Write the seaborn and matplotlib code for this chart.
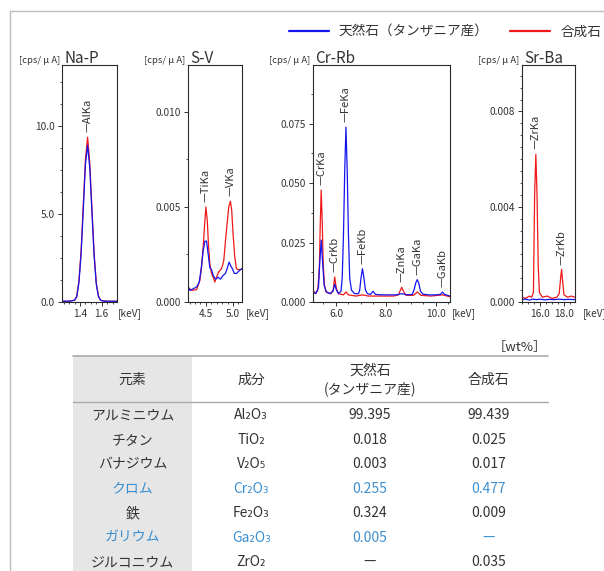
import numpy as np
import pandas as pd
import matplotlib
matplotlib.use("Agg")
import matplotlib.pyplot as plt
import seaborn as sns
from matplotlib.lines import Line2D
from matplotlib.ticker import MultipleLocator, FixedLocator, FormatStrFormatter

# ---------------------------------------------------------------- data
NATURAL = "天然石（タンザニア産）"
SYNTHETIC = "合成石"

# Na-P region (cps/uA)
nap_kev = [1.24, 1.30, 1.35, 1.37, 1.39, 1.41, 1.43, 1.45, 1.47, 1.49,
           1.51, 1.53, 1.55, 1.57, 1.59, 1.62, 1.68, 1.74]
nap_natural = [0.05, 0.04, 0.10, 0.30, 1.1, 2.7, 5.2, 7.8, 8.9, 7.6,
               5.1, 2.6, 1.0, 0.3, 0.1, 0.05, 0.04, 0.04]
nap_synthetic = [0.04, 0.05, 0.10, 0.33, 1.2, 2.9, 5.5, 8.1, 9.35, 7.9,
                 5.3, 2.8, 1.1, 0.35, 0.1, 0.05, 0.04, 0.04]

# S-V region
sv_kev_syn = [4.164, 4.237, 4.329, 4.39, 4.42, 4.45, 4.482, 4.50, 4.525, 4.55,
              4.573, 4.604, 4.634, 4.665, 4.695, 4.738, 4.775, 4.805, 4.83, 4.86,
              4.89, 4.921, 4.952, 4.976, 5.0, 5.031, 5.062, 5.098, 5.135, 5.165]
sv_synthetic = [0.00079, 0.00061, 0.00065, 0.00114, 0.00184, 0.0029, 0.0043, 0.0050, 0.0043, 0.0029,
                0.0020, 0.0015, 0.0013, 0.00105, 0.0013, 0.0016, 0.0017, 0.0019, 0.0022, 0.0032,
                0.0041, 0.0050, 0.0053, 0.0048, 0.0036, 0.0024, 0.00175, 0.0017, 0.0017, 0.00175]
sv_kev_nat = [4.164, 4.207, 4.268, 4.329, 4.378, 4.42, 4.45, 4.482, 4.512, 4.543,
              4.573, 4.604, 4.634, 4.677, 4.726, 4.768, 4.817, 4.86, 4.896, 4.927,
              4.958, 4.988, 5.025, 5.062, 5.098, 5.135, 5.165]
sv_natural = [0.00088, 0.00061, 0.0007, 0.00079, 0.00105, 0.0019, 0.0027, 0.0032, 0.0032, 0.0025,
              0.0018, 0.0017, 0.0014, 0.0012, 0.0013, 0.0012, 0.0014, 0.0015, 0.0018, 0.0021,
              0.0019, 0.00175, 0.0015, 0.0015, 0.0016, 0.0017, 0.00175]

# Cr-Rb region
crrb_kev_nat = [5.07, 5.20, 5.30, 5.35, 5.41, 5.47, 5.53, 5.60, 5.75, 5.88,
                5.95, 6.02, 6.10, 6.20, 6.25, 6.30, 6.35, 6.40, 6.45, 6.50,
                6.55, 6.62, 6.75, 6.90, 6.95, 7.00, 7.06, 7.12, 7.18, 7.26,
                7.38, 7.48, 7.58, 7.80, 8.10, 8.40, 8.63, 8.85, 9.05, 9.12,
                9.19, 9.25, 9.31, 9.38, 9.48, 9.70, 10.00, 10.18, 10.26, 10.34,
                10.56]
crrb_natural = [0.0040, 0.0035, 0.0060, 0.0160, 0.0260, 0.0160, 0.0070, 0.0045, 0.0035, 0.0045,
                0.0075, 0.0050, 0.0035, 0.0045, 0.0100, 0.0280, 0.0550, 0.0735, 0.0550, 0.0280,
                0.0100, 0.0050, 0.0035, 0.0035, 0.0050, 0.0100, 0.0140, 0.0100, 0.0050, 0.0035,
                0.0032, 0.0045, 0.0032, 0.0030, 0.0030, 0.0030, 0.0035, 0.0030, 0.0032, 0.0050,
                0.0080, 0.0094, 0.0080, 0.0045, 0.0033, 0.0030, 0.0030, 0.0032, 0.0042, 0.0032,
                0.0025]
crrb_kev_syn = [5.07, 5.20, 5.27, 5.31, 5.34, 5.37, 5.41, 5.45, 5.49, 5.54,
                5.62, 5.80, 5.89, 5.95, 6.01, 6.10, 6.30, 6.40, 6.50, 6.80,
                7.06, 7.30, 7.80, 8.30, 8.50, 8.57, 8.63, 8.70, 8.80, 9.10,
                9.25, 9.40, 9.80, 10.26, 10.56]
crrb_synthetic = [0.0045, 0.0040, 0.0050, 0.0100, 0.0160, 0.0320, 0.0470, 0.0340, 0.0160, 0.0070,
                  0.0040, 0.0035, 0.0050, 0.0105, 0.0060, 0.0035, 0.0030, 0.0042, 0.0030, 0.0025,
                  0.0030, 0.0025, 0.0025, 0.0025, 0.0030, 0.0048, 0.0062, 0.0045, 0.0028, 0.0028,
                  0.0042, 0.0028, 0.0025, 0.0030, 0.0022]

# Sr-Ba region
srba_kev_syn = [14.5, 14.8, 15.1, 15.3, 15.45, 15.55, 15.65, 15.75, 15.85, 15.95,
                16.2, 16.6, 17.0, 17.4, 17.6, 17.72, 17.8, 17.9, 18.0, 18.3,
                18.6, 18.9]
srba_synthetic = [0.00020, 0.00015, 0.00025, 0.00020, 0.00040, 0.0045, 0.0062, 0.0045, 0.0015, 0.0004,
                  0.00020, 0.00025, 0.00015, 0.00020, 0.00035, 0.0010, 0.00137, 0.0008, 0.00030, 0.00020,
                  0.00025, 0.00020]
srba_kev_nat = [14.5, 14.8, 15.1, 15.4, 15.7, 16.0, 16.4, 16.8, 17.2, 17.6, 18.0, 18.4, 18.9]
srba_natural = [0.00010, 0.00012, 0.00008, 0.00012, 0.00010, 0.00012, 0.00009, 0.00011,
                0.00010, 0.00012, 0.00010, 0.00011, 0.00010]

# characteristic lines marked on each region
nap_lines = [("AlKa", 1.47)]
sv_lines = [("TiKa", 4.50), ("VKa", 4.952)]
crrb_lines = [("CrKa", 5.41), ("CrKb", 5.95), ("FeKa", 6.40), ("FeKb", 7.06),
              ("ZnKa", 8.63), ("GaKa", 9.25), ("GaKb", 10.26)]
srba_lines = [("ZrKa", 15.65), ("ZrKb", 17.8)]

# composition table [wt%]
table_header = ["元素", "成分", "天然石\n(タンザニア産)", "合成石"]
elements = ["アルミニウム", "チタン", "バナジウム", "クロム", "鉄", "ガリウム", "ジルコニウム"]
oxides = ["Al₂O₃", "TiO₂", "V₂O₅", "Cr₂O₃", "Fe₂O₃", "Ga₂O₃", "ZrO₂"]
natural_wt = ["99.395", "0.018", "0.003", "0.255", "0.324", "0.005", "—"]
synthetic_wt = ["99.439", "0.025", "0.017", "0.477", "0.009", "—", "0.035"]
highlighted = ["クロム", "ガリウム"]

# ---------------------------------------------------------------- style
sns.set_theme(style="white")
plt.rcParams["font.family"] = ["Noto Sans CJK JP", "DejaVu Sans"]
TEXT = "#333333"
BLUE_TXT = "#3b8fd0"
palette = {NATURAL: "#1414f0", SYNTHETIC: "#f01818"}

W, H = 604, 571
fig = plt.figure(figsize=(W / 100, H / 100), dpi=100)
fig.patch.set_facecolor("white")


def px_axes(x0, x1, y0, y1):
    return fig.add_axes([x0 / W, 1 - y1 / H, (x1 - x0) / W, (y1 - y0) / H])


def spectrum_frame(kev_nat, nat, kev_syn, syn):
    return pd.concat([
        pd.DataFrame({"keV": kev_nat, "cps": nat, "試料": NATURAL}),
        pd.DataFrame({"keV": kev_syn, "cps": syn, "試料": SYNTHETIC}),
    ], ignore_index=True)


panels = [
    dict(title="Na-P", rect=(62, 117, 65, 302), xlim=(1.234, 1.741), ylim=(0, 13.45),
         xt=[1.4, 1.6], yt=[0, 5, 10], xm=0.05, ym=1.25, xf="%.1f", yf="%.1f", kev_dx=1,
         df=spectrum_frame(nap_kev, nap_natural, nap_kev, nap_synthetic), lines=nap_lines),
    dict(title="S-V", rect=(187.7, 242, 65, 302), xlim=(4.165, 5.165), ylim=(0, 0.01247),
         xt=[4.5, 5.0], yt=[0, 0.005, 0.010], xm=0.1, ym=0.0025, xf="%.1f", yf="%.3f", kev_dx=4,
         df=spectrum_frame(sv_kev_nat, sv_natural, sv_kev_syn, sv_synthetic), lines=sv_lines),
    dict(title="Cr-Rb", rect=(312.7, 450, 65, 302), xlim=(5.07, 10.56), ylim=(0, 0.0996),
         xt=[6, 8, 10], yt=[0, 0.025, 0.05, 0.075], xm=0.5, ym=0.0125, xf="%.1f", yf="%.3f", kev_dx=2,
         df=spectrum_frame(crrb_kev_nat, crrb_natural, crrb_kev_syn, crrb_synthetic), lines=crrb_lines),
    dict(title="Sr-Ba", rect=(521.7, 575, 65, 302), xlim=(14.47, 18.92), ylim=(0, 0.00995),
         xt=[16, 18], yt=[0, 0.004, 0.008], xm=0.5, ym=0.0005, xf="%.1f", yf="%.3f", kev_dx=7.5,
         df=spectrum_frame(srba_kev_nat, srba_natural, srba_kev_syn, srba_synthetic), lines=srba_lines),
]

for p in panels:
    ax = px_axes(*p["rect"])
    sns.lineplot(data=p["df"], x="keV", y="cps", hue="試料", hue_order=[SYNTHETIC, NATURAL],
                 palette=palette, estimator=None, linewidth=0.9, legend=False, ax=ax)
    ax.set_xlim(*p["xlim"])
    ax.set_ylim(*p["ylim"])
    ax.set_xlabel("")
    ax.set_ylabel("")
    ax.xaxis.set_major_locator(FixedLocator(p["xt"]))
    ax.yaxis.set_major_locator(FixedLocator(p["yt"]))
    ax.xaxis.set_minor_locator(MultipleLocator(p["xm"]))
    ax.yaxis.set_minor_locator(MultipleLocator(p["ym"]))
    ax.xaxis.set_major_formatter(FormatStrFormatter(p["xf"]))
    ax.yaxis.set_major_formatter(FormatStrFormatter(p["yf"]))
    ax.tick_params(which="major", direction="out", length=3, width=0.7, labelsize=7.3,
                   pad=2, colors=TEXT, bottom=True, left=True)
    ax.tick_params(which="minor", direction="out", length=1.6, width=0.6, colors=TEXT,
                   bottom=True, left=True)
    for s in ax.spines.values():
        s.set_visible(True)
        s.set_color("#2a2a2a")
        s.set_linewidth(0.8)

    ax.annotate("[cps/ μ A]", xy=(0, 1), xycoords="axes fraction", xytext=(-1.5, 1.5),
                textcoords="offset points", ha="right", va="baseline", fontsize=6.8, color=TEXT)
    ax.annotate(p["title"], xy=(0, 1), xycoords="axes fraction", xytext=(2, 1.5),
                textcoords="offset points", ha="left", va="baseline", fontsize=11, color=TEXT)
    ax.annotate("[keV]", xy=(1, 0), xycoords="axes fraction", xytext=(p["kev_dx"] * 0.72, -8),
                textcoords="offset points", ha="left", va="center", fontsize=7.3, color=TEXT,
                annotation_clip=False)

    # characteristic-line labels just above the taller of the two spectra
    df = p["df"]
    for name, e in p["lines"]:
        top = max(np.interp(e, g["keV"], g["cps"]) for _, g in df.groupby("試料"))
        ax.annotate("—" + name, xy=(e, top), xytext=(0, 3.5), textcoords="offset points",
                    rotation=90, ha="center", va="bottom", fontsize=8, color=TEXT)

# legend
handles = [Line2D([], [], color=palette[NATURAL], lw=1.6),
           Line2D([], [], color=palette[SYNTHETIC], lw=1.6)]
fig.legend(handles, [NATURAL, SYNTHETIC], loc="center right",
           bbox_to_anchor=(601 / W, 1 - 32 / H), ncol=2, frameon=False, fontsize=9.8,
           handlelength=2.9, handletextpad=0.75, columnspacing=1.6, borderpad=0,
           borderaxespad=0, labelcolor=TEXT)

# page frame
fig.add_artist(Line2D([10 / W, 1], [1 - 11 / H, 1 - 11 / H], transform=fig.transFigure,
                      color="#bdbdbd", lw=1.0))
fig.add_artist(Line2D([10 / W, 10 / W], [0, 1 - 11 / H], transform=fig.transFigure,
                      color="#bdbdbd", lw=1.0))

# ---------------------------------------------------------------- table
tx = px_axes(73.3, 548, 356, 571)
head_h = 45.7 / 24.5
tx.set_xlim(0, 4)
tx.set_ylim((571 - 401.7) / 24.5, -head_h)
tx.axis("off")
tx.axvspan(0, 1, color="#e6e6e6", lw=0, zorder=0)
tx.axhline(-head_h, color="#aaaaaa", lw=1.2, clip_on=False)
tx.axhline(0, color="#aaaaaa", lw=1.0, clip_on=False)

for j, h in enumerate(table_header):
    tx.text(j + 0.5, -head_h / 2 + 0.05, h, ha="center", va="center", fontsize=10,
            color=TEXT, linespacing=1.3)

tx.text(3.99, -2.23, "［wt%］", ha="right", va="center", fontsize=9.5, color=TEXT, clip_on=False)

for i, row in enumerate(zip(elements, oxides, natural_wt, synthetic_wt)):
    color = BLUE_TXT if row[0] in highlighted else TEXT
    for j, val in enumerate(row):
        tx.text(j + 0.5, i + 0.55, val, ha="center", va="center", fontsize=10, color=color)

fig.savefig("out.png", dpi=100, facecolor="white")
